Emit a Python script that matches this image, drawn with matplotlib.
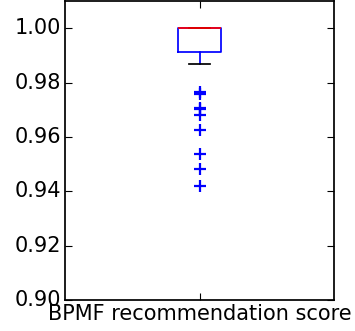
import matplotlib
matplotlib.use("Agg")
import matplotlib.pyplot as plt

plt.style.use("classic")

# Summary statistics of the recommendation scores
label = "BPMF recommendation score"
median = 1.0
q1 = 0.9914
q3 = 1.0
whisker_low = 0.9869
whisker_high = 1.0
outliers = [0.9765, 0.9759, 0.9708, 0.9703, 0.9679, 0.9624, 0.9536, 0.9481, 0.9418]
yticks = [0.90, 0.92, 0.94, 0.96, 0.98, 1.00]

stats = [{
    "label": label,
    "med": median,
    "q1": q1,
    "q3": q3,
    "whislo": whisker_low,
    "whishi": whisker_high,
    "fliers": outliers,
}]

lw = 1.25
fig = plt.figure(figsize=(3.55, 3.31), dpi=100, facecolor="white")
ax = fig.add_axes([65 / 355, 31 / 331, 269 / 355, 299 / 331])

ax.bxp(stats, widths=0.16,
       boxprops=dict(color="b", linewidth=lw),
       whiskerprops=dict(color="b", linestyle="-", linewidth=lw),
       capprops=dict(color="k", linewidth=lw),
       medianprops=dict(color="r", linewidth=lw),
       flierprops=dict(marker="+", markeredgecolor="b", markersize=8,
                       markeredgewidth=1.6, linestyle="none"))

ax.set_ylim(0.90, 1.01)
ax.set_xlim(0.5, 1.5)
ax.set_yticks(yticks)
ax.tick_params(labelsize=15, pad=3, length=5, width=0.8)
for spine in ax.spines.values():
    spine.set_linewidth(lw)

fig.savefig("out.png", dpi=100, facecolor="white")
